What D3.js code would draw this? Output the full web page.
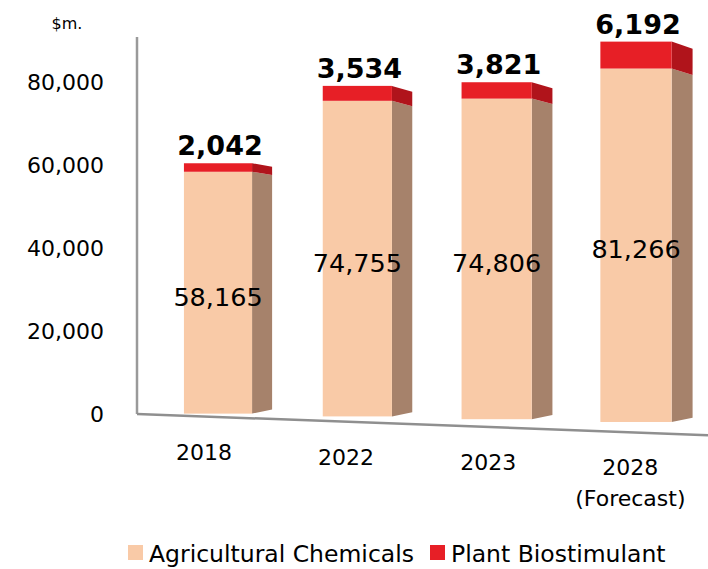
<!DOCTYPE html>
<html>
<head>
<meta charset="utf-8">
<script src="https://cdn.jsdelivr.net/npm/d3@7"></script>
<style>
  body { margin: 0; background: #fff; }
  svg text { font-family: "DejaVu Sans", sans-serif; fill: #000; }
</style>
</head>
<body>
<svg id="drawing_region"></svg>
<script>
// chart values
const categories = ['2018', '2022', '2023', '2028'];
const subLabels = ['', '', '', '(Forecast)'];
const agriValues = [58165, 74755, 74806, 81266];
const bioValues = [2042, 3534, 3821, 6192];
const yTicks = [0, 20000, 40000, 60000, 80000];
const seriesNames = ['Agricultural Chemicals', 'Plant Biostimulant'];

const width = 708, height = 569;
const colors = {
    agri: '#f9caa7', agriSide: '#a6826b',
    bio: '#e71f26', bioSide: '#b0141b'
};

const svg = d3.select('#drawing_region')
    .attr('width', width)
    .attr('height', height);

const axisX = 137;
const xscale = d3.scalePoint()
    .domain(categories)
    .range([218, 636]);
const yscale = d3.scaleLinear()
    .domain([0, 80000])
    .range([414, 82]);

// fake perspective: bars further right sit lower and look a little bigger
const depth = cx => 1 + (cx - 200) * 0.00011;
const base = cx => 412 + (cx - 137) * 0.02;
const floorY = x => 414 + (x - 137) * 0.037;
const vpY = 280, sideK = 0.03;
const far = y => y + (vpY - y) * sideK;

// axes lines
svg.append('line')
    .attr('x1', axisX).attr('x2', axisX)
    .attr('y1', 37).attr('y2', floorY(axisX))
    .attr('stroke', '#9a9a9a').attr('stroke-width', 2.5);

// y tick labels
svg.append('g').selectAll('text')
    .data(yTicks)
    .join('text')
    .attr('x', 104)
    .attr('y', d => yscale(d) + 8)
    .attr('text-anchor', 'end')
    .attr('font-size', 22)
    .text(d => d3.format(',')(d));

svg.append('text')
    .attr('x', 67).attr('y', 29)
    .attr('text-anchor', 'middle')
    .attr('font-size', 16)
    .text('$m.');

const bars = categories.map((c, i) => {
    const cx = xscale(c);
    const f = depth(cx);
    const b = base(cx);
    const h1 = (yscale(0) - yscale(agriValues[i])) * f;
    const h2 = (yscale(0) - yscale(bioValues[i])) * f;
    const w = 68 * f;
    return {cat: c, sub: subLabels[i], cx, f, b, w,
        agriTop: b - h1, bioTop: b - h1 - h2,
        agri: agriValues[i], bio: bioValues[i]};
});

const chart = svg.append('g');

function side(xr, yt, yb, f) {
    const d = 20 * f;
    return [[xr, yt], [xr + d, far(yt)], [xr + d, far(yb)], [xr, yb]]
        .map(p => p.join(',')).join(' ');
}

bars.forEach(d => {
    const xl = d.cx - d.w / 2, xr = d.cx + d.w / 2;
    chart.append('polygon')
        .attr('points', side(xr, d.agriTop, d.b, d.f))
        .attr('fill', colors.agriSide);
    chart.append('polygon')
        .attr('points', side(xr, d.bioTop, d.agriTop, d.f))
        .attr('fill', colors.bioSide);
    chart.append('rect')
        .attr('x', xl).attr('y', d.agriTop)
        .attr('width', d.w).attr('height', d.b - d.agriTop)
        .attr('fill', colors.agri);
    chart.append('rect')
        .attr('x', xl).attr('y', d.bioTop)
        .attr('width', d.w).attr('height', d.agriTop - d.bioTop)
        .attr('fill', colors.bio);
});

// floor line
svg.append('line')
    .attr('x1', axisX).attr('x2', width)
    .attr('y1', floorY(axisX)).attr('y2', floorY(width))
    .attr('stroke', '#8f8f8f').attr('stroke-width', 2.5);

// value labels
chart.selectAll('text.inner')
    .data(bars)
    .join('text')
    .attr('class', 'inner')
    .attr('x', d => d.cx)
    .attr('y', d => (d.agriTop + d.b) / 2 + 13)
    .attr('text-anchor', 'middle')
    .attr('font-size', 25.5)
    .text(d => d3.format(',')(d.agri));

chart.selectAll('text.top')
    .data(bars)
    .join('text')
    .attr('class', 'top')
    .attr('x', d => d.cx + 2)
    .attr('y', d => d.bioTop - 8)
    .attr('text-anchor', 'middle')
    .attr('font-size', 27)
    .attr('font-weight', 'bold')
    .text(d => d3.format(',')(d.bio));

// category labels
const labelX = d => d.cx - 14 + (d.cx - 218) * 0.02;
const xl = svg.append('g').selectAll('text')
    .data(bars)
    .join('text')
    .attr('x', labelX)
    .attr('y', d => floorY(d.cx) + 43)
    .attr('text-anchor', 'middle')
    .attr('font-size', 22);
xl.append('tspan').text(d => d.cat);
xl.append('tspan')
    .attr('x', labelX)
    .attr('dy', 31)
    .text(d => d.sub);

// legend
const legend = svg.append('g');
const legendItems = [
    {name: seriesNames[0], color: colors.agri, x: 128},
    {name: seriesNames[1], color: colors.bio, x: 430}
];
legendItems.forEach(it => {
    legend.append('rect')
        .attr('x', it.x).attr('y', 545)
        .attr('width', 15).attr('height', 15)
        .attr('fill', it.color);
    legend.append('text')
        .attr('x', it.x + 21).attr('y', 562)
        .attr('font-size', 23.5)
        .text(it.name);
});
</script>
</body>
</html>
